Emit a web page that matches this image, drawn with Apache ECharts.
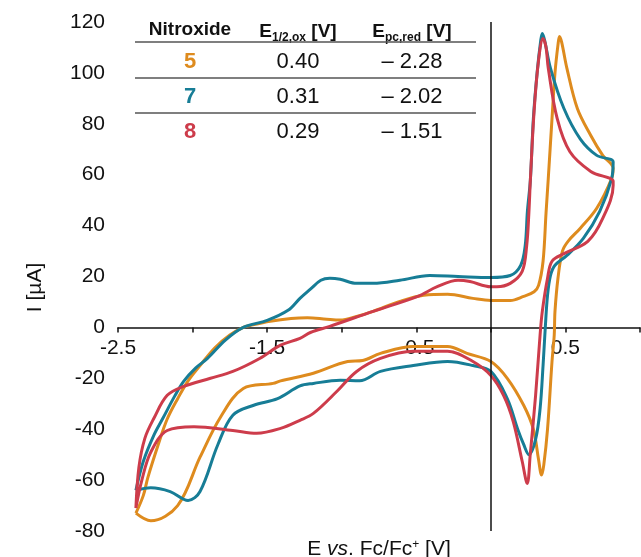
<!DOCTYPE html>
<html>
<head>
<meta charset="utf-8">
<script src="https://cdn.jsdelivr.net/npm/echarts@6/dist/echarts.min.js"></script>
<style>
  html, body { margin: 0; padding: 0; background: #fff; }
  #chart { width: 641px; height: 557px; }
</style>
</head>
<body>
<div id="chart"></div>
<script>
// table contents
var nitroxides = ['5', '7', '8'];
var eHalfOx = ['0.40', '0.31', '0.29'];
var epcRed = ['– 2.28', '– 2.02', '– 1.51'];
var colors = ['#DE8B1E', '#177D96', '#CD3C4B'];

// x-axis labels that are shown (ticks every 0.5)
var xLabels = [-2.5, -1.5, -0.5, 0.5];

// CV traces [E (V), I (µA)]
var cv5 = [
  [-2.38, -73], [-2.33, -66], [-2.30, -59], [-2.23, -46], [-2.17, -36], [-2.10, -28], [-2.03, -21],
  [-1.95, -15], [-1.85, -8], [-1.75, -3], [-1.66, 0], [-1.61, 0.8], [-1.48, 2.4], [-1.34, 3.5],
  [-1.23, 3.8], [-1.10, 3.2], [-1.01, 2.9], [-0.90, 4.3], [-0.79, 6.3], [-0.61, 10.2], [-0.45, 12.6],
  [-0.29, 13], [-0.12, 11.4], [0, 10.6], [0.13, 10.6], [0.22, 12.2], [0.29, 14], [0.32, 16.5],
  [0.35, 26], [0.37, 45], [0.385, 58.5], [0.41, 82], [0.43, 100], [0.45, 111], [0.46, 114.3],
  [0.475, 112], [0.51, 101.8], [0.58, 86], [0.67, 75.4], [0.75, 67.6], [0.82, 62.5],
  [0.81, 58.5], [0.71, 46.8], [0.60, 39], [0.52, 34], [0.48, 30], [0.45, 19.3], [0.43, 6.3],
  [0.425, -3], [0.41, -13.4], [0.38, -40], [0.355, -54], [0.34, -58], [0.32, -52], [0.285, -40],
  [0.22, -30.6], [0.11, -20], [0, -13.4], [-0.16, -10.2], [-0.29, -7.5], [-0.52, -7.5],
  [-0.74, -10.2], [-0.86, -13], [-0.96, -13.4], [-1.19, -18], [-1.41, -21], [-1.46, -22],
  [-1.66, -24], [-1.81, -35], [-1.95, -51], [-2.10, -70], [-2.28, -76], [-2.38, -73]
];
var cv7 = [
  [-2.38, -64], [-2.33, -52.6], [-2.26, -42.4], [-2.20, -35.8], [-2.12, -27], [-2.06, -21.2],
  [-1.98, -16], [-1.90, -12.2], [-1.78, -5], [-1.66, 0], [-1.50, 2.75], [-1.36, 6.7], [-1.28, 11.4],
  [-1.21, 15], [-1.14, 18.5], [-1.08, 19.3], [-1.01, 18.9], [-0.90, 17.3], [-0.79, 17.3],
  [-0.61, 18.5], [-0.41, 20.4], [-0.22, 20], [0, 19.6], [0.13, 20.4], [0.20, 24.4], [0.23, 32],
  [0.245, 45.6], [0.265, 58], [0.285, 82], [0.31, 100], [0.335, 113], [0.345, 115.5], [0.36, 113],
  [0.40, 101.8], [0.49, 86], [0.60, 74], [0.71, 67.6], [0.82, 65],
  [0.81, 58.5], [0.73, 45.6], [0.62, 35], [0.51, 28.3], [0.43, 24.4], [0.40, 20.4], [0.38, 12.6],
  [0.365, 0], [0.35, -15], [0.33, -32], [0.30, -44], [0.255, -50], [0.22, -46], [0.18, -40],
  [0.11, -28], [0, -17.3], [-0.12, -15], [-0.29, -13.4], [-0.52, -15], [-0.74, -17.3],
  [-0.88, -21], [-1.01, -20.8], [-1.19, -22], [-1.28, -23], [-1.43, -28], [-1.59, -30.6],
  [-1.73, -34.5], [-1.83, -46], [-1.95, -64.5], [-2.03, -68], [-2.15, -64.5], [-2.28, -63], [-2.38, -64]
];
var cv8 = [
  [-2.38, -71], [-2.36, -55], [-2.32, -43.6], [-2.26, -35.8], [-2.17, -26.7], [-2.06, -23.2],
  [-1.88, -20], [-1.73, -17.3], [-1.55, -12.2], [-1.41, -7], [-1.28, -4.3], [-1.21, -2],
  [-1.08, 0.4], [-0.79, 6.3], [-0.49, 12.2], [-0.36, 16], [-0.22, 18.5], [-0.14, 18], [0, 16],
  [0.04, 16], [0.13, 17.3], [0.21, 22], [0.24, 32], [0.255, 45], [0.265, 58], [0.29, 85],
  [0.32, 105], [0.35, 113.5], [0.37, 110], [0.385, 101.8], [0.445, 82], [0.53, 69], [0.67, 61.3],
  [0.82, 57.4],
  [0.82, 55.8], [0.75, 42.8], [0.65, 33.8], [0.49, 29], [0.41, 26], [0.38, 19.3], [0.345, 6.3],
  [0.33, -3], [0.30, -26.7], [0.264, -50], [0.244, -61.3], [0.21, -52.6], [0.15, -37],
  [0.085, -26.7], [0, -18.9], [-0.12, -13.4], [-0.29, -9.4], [-0.52, -9.4], [-0.74, -12.2],
  [-0.90, -17.3], [-1.03, -25], [-1.19, -33.8], [-1.28, -36.5], [-1.41, -39.7], [-1.57, -41.6],
  [-1.73, -40.5], [-1.99, -39], [-2.17, -40.5], [-2.28, -49], [-2.34, -60], [-2.38, -71]
];

var FONT = '"Liberation Sans", Arial, sans-serif';
var chart = echarts.init(document.getElementById('chart'));

var yMin = -80, yMax = 120;
var gridTop = 22, gridBottom = 26;
// x axis sits on I = 0, labels included
var plotH = 557 - gridTop - gridBottom;
var zeroOffset = -plotH * (0 - yMin) / (yMax - yMin);

// table drawn as graphic elements
var tableLeft = 135, tableRight = 476;
var colX = [190, 298, 412];
var headerY = 30;
var rowY = [62, 97, 132];
var ruleY = [42, 78, 113];

var headRich = {
  b: { fontFamily: FONT, fontSize: 19, fontWeight: 'bold', fill: '#111', lineHeight: 22, verticalAlign: 'bottom' },
  s: { fontFamily: FONT, fontSize: 12, fontWeight: 'bold', fill: '#111', lineHeight: 22, verticalAlign: 'bottom', padding: [0, 0, -3, 0] }
};

var graphics = [];
graphics.push({
  type: 'text', x: colX[0], y: headerY,
  style: { text: 'Nitroxide', fontFamily: FONT, fontSize: 19, fontWeight: 'bold', fill: '#111', align: 'center', verticalAlign: 'middle' }
});
graphics.push({
  type: 'text', x: colX[1], y: headerY,
  style: { text: '{b|E}{s|1/2,ox}{b| [V]}', align: 'center', verticalAlign: 'middle', rich: headRich }
});
graphics.push({
  type: 'text', x: colX[2], y: headerY,
  style: { text: '{b|E}{s|pc,red}{b| [V]}', align: 'center', verticalAlign: 'middle', rich: headRich }
});
ruleY.forEach(function (y) {
  graphics.push({
    type: 'line', shape: { x1: tableLeft, y1: y, x2: tableRight, y2: y },
    style: { stroke: '#555', lineWidth: 1.5 }
  });
});
nitroxides.forEach(function (n, i) {
  graphics.push({
    type: 'text', x: colX[0], y: rowY[i],
    style: { text: n, fontFamily: FONT, fontSize: 22, fontWeight: 'bold', fill: colors[i], align: 'center', verticalAlign: 'middle' }
  });
  graphics.push({
    type: 'text', x: colX[1], y: rowY[i],
    style: { text: eHalfOx[i], fontFamily: FONT, fontSize: 22, fill: '#111', align: 'center', verticalAlign: 'middle' }
  });
  graphics.push({
    type: 'text', x: colX[2], y: rowY[i],
    style: { text: epcRed[i], fontFamily: FONT, fontSize: 22, fill: '#111', align: 'center', verticalAlign: 'middle' }
  });
});

function cvSeries(name, data, color) {
  return {
    name: name,
    type: 'line',
    data: data,
    smooth: 0.35,
    showSymbol: false,
    symbol: 'none',
    lineStyle: { color: color, width: 3 },
    animation: false,
    z: 3
  };
}

var series = [
  cvSeries('5', cv5, colors[0]),
  cvSeries('7', cv7, colors[1]),
  cvSeries('8', cv8, colors[2])
];
// vertical line at E = 0
series[0].markLine = {
  silent: true,
  symbol: 'none',
  label: { show: false },
  lineStyle: { color: '#111', width: 1.5, type: 'solid' },
  data: [{ xAxis: 0 }],
  animation: false
};

var option = {
  backgroundColor: '#fff',
  animation: false,
  grid: { left: 118, right: 1, top: gridTop, bottom: gridBottom, outerBoundsMode: 'none' },
  xAxis: {
    type: 'value',
    min: -2.5,
    max: 1.0,
    interval: 0.5,
    position: 'bottom',
    offset: zeroOffset,
    name: 'E {i|vs}. Fc/Fc{sup|+} [V]',
    nameLocation: 'middle',
    nameGap: 211,
    nameTextStyle: {
      fontFamily: FONT, fontSize: 21, color: '#111',
      rich: {
        i: { fontFamily: FONT, fontSize: 21, fontStyle: 'italic', color: '#111' },
        sup: { fontFamily: FONT, fontSize: 12, color: '#111', verticalAlign: 'top', padding: [0, 0, 8, 0] }
      }
    },
    axisLine: { onZero: false, lineStyle: { color: '#111', width: 1.5 } },
    axisTick: { show: true, inside: false, length: 5, lineStyle: { color: '#111', width: 1.5 } },
    axisLabel: {
      fontFamily: FONT, fontSize: 21, color: '#111', margin: 10,
      formatter: function (v) {
        return xLabels.some(function (t) { return Math.abs(t - v) < 1e-6; }) ? String(v) : '';
      }
    },
    splitLine: { show: false }
  },
  yAxis: {
    type: 'value',
    min: yMin,
    max: yMax,
    interval: 20,
    name: 'I [µA]',
    nameLocation: 'middle',
    nameGap: 72,
    nameRotate: 90,
    nameTextStyle: { fontFamily: FONT, fontSize: 21, color: '#111', padding: [0, 22, 0, 0] },
    axisLine: { show: false, onZero: false },
    axisTick: { show: false },
    axisLabel: { fontFamily: FONT, fontSize: 21, color: '#111', margin: 13 },
    splitLine: { show: false }
  },
  graphic: graphics,
  series: series
};

chart.setOption(option);
</script>
</body>
</html>
